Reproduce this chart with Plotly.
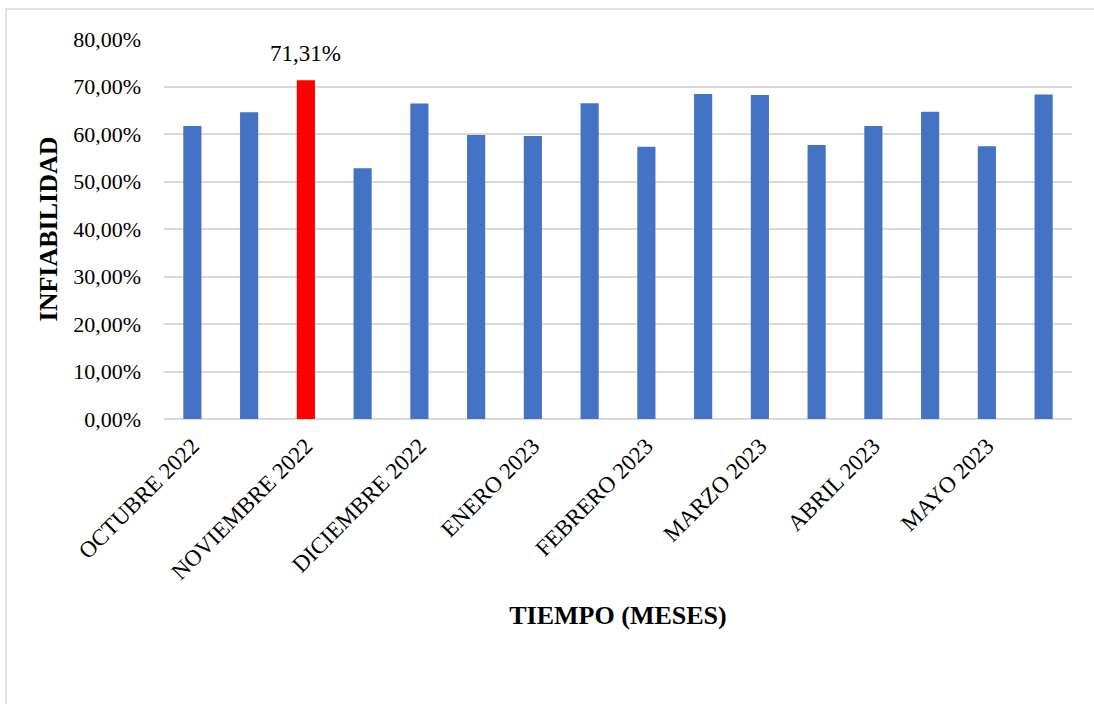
import plotly.graph_objects as go

# ---- data ----
positions = list(range(16))
values = [61.7, 64.6, 71.31, 52.8, 66.4, 59.8, 59.6, 66.5,
          57.3, 68.4, 68.2, 57.7, 61.7, 64.7, 57.4, 68.3]
tick_positions = [0, 2, 4, 6, 8, 10, 12, 14]
tick_labels = ["OCTUBRE 2022", "NOVIEMBRE 2022", "DICIEMBRE 2022", "ENERO 2023",
               "FEBRERO 2023", "MARZO 2023", "ABRIL 2023", "MAYO 2023"]
y_ticks = [0, 10, 20, 30, 40, 50, 60, 70, 80]
y_tick_labels = ["0,00%", "10,00%", "20,00%", "30,00%", "40,00%",
                 "50,00%", "60,00%", "70,00%", "80,00%"]
highlight_index = 2
highlight_label = "71,31%"

BLUE = "#4472C4"
RED = "#FF0000"
colors = [RED if i == highlight_index else BLUE for i in positions]

FONT = "Liberation Serif, Times New Roman, serif"

fig = go.Figure()
fig.add_trace(go.Bar(
    x=positions, y=values,
    marker=dict(color=colors, line=dict(width=0)),
    width=0.32,
    hoverinfo="x+y",
))

fig.add_annotation(
    x=positions[highlight_index], y=values[highlight_index],
    text=highlight_label, showarrow=False,
    yanchor="bottom", yshift=12,
    font=dict(family=FONT, size=23, color="#000000"),
)

L, R, T, B = 164, 22, 39, 285
W, H = 1094, 704
pw, ph = W - L - R, H - T - B
# light chart-area border (extends past right/bottom edges like the reference)
fig.add_shape(
    type="rect", xref="paper", yref="paper",
    x0=(6 - L) / pw, x1=(W + 20 - L) / pw,
    y0=-(H + 20 - T - ph) / ph, y1=(H - 9 - B) / ph,
    line=dict(color="#d9d9d9", width=1.5), layer="below",
)

fig.update_layout(
    width=W, height=H,
    margin=dict(l=L, r=R, t=T, b=B),
    paper_bgcolor="white", plot_bgcolor="white",
    showlegend=False,
    font=dict(family=FONT, size=21, color="#000000"),
    xaxis=dict(
        range=[-0.5, 15.5],
        tickmode="array", tickvals=tick_positions, ticktext=tick_labels,
        tickangle=-45, showgrid=False, zeroline=False, showline=False,
        ticks="", ticklabelstandoff=8,
        tickfont=dict(family=FONT, size=23, color="#000000"),
        title=dict(text="<b>TIEMPO (MESES)</b>", standoff=22,
                   font=dict(family=FONT, size=26, color="#000000")),
    ),
    yaxis=dict(
        range=[0, 80],
        tickmode="array", tickvals=y_ticks, ticktext=y_tick_labels,
        showgrid=True, gridcolor="#d9d9d9", gridwidth=1.5,
        zeroline=True, zerolinecolor="#d9d9d9", zerolinewidth=1.5,
        showline=False, ticks="", ticklabelstandoff=22,
        tickfont=dict(family=FONT, size=22, color="#000000"),
        title=dict(text="<b>INFIABILIDAD</b>", standoff=8,
                   font=dict(family=FONT, size=26, color="#000000")),
    ),
)

fig.write_html("out.html", config={"displayModeBar": False},
               post_script="document.body.style.margin='0';document.body.style.padding='0';")
